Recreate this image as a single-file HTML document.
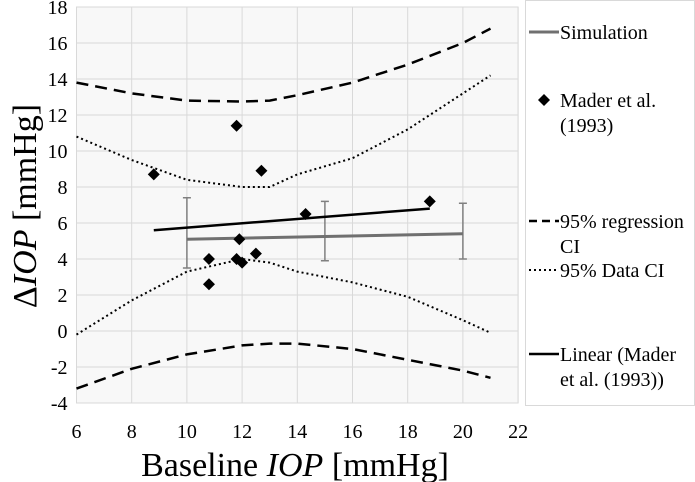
<!DOCTYPE html>
<html><head><meta charset="utf-8"><style>
body{margin:0;background:#fff}
svg{display:block;font-family:"Liberation Serif",serif}
</style></head><body>
<svg id="c" width="695" height="482"></svg>
<script>
const xTicks=[6,8,10,12,14,16,18,20,22];
const yTicks=[-4,-2,0,2,4,6,8,10,12,14,16,18];
const maderX=[8.8,11.8,12.7,14.3,18.8,10.8,10.8,11.8,11.9,12.0,12.5];
const maderY=[8.7,11.4,8.9,6.5,7.2,4.0,2.6,4.0,5.1,3.8,4.3];
const linX=[8.8,18.8];
const linY=[5.6,6.8];
const simX=[10,15,20];
const simY=[5.1,5.25,5.4];
const simLo=[3.5,3.9,4.0];
const simHi=[7.4,7.2,7.1];
const ciX=[6,8,10,12,13,14,16,18,20,21];
const regHi=[13.8,13.2,12.8,12.75,12.8,13.1,13.8,14.8,16,16.8];
const regLo=[-3.2,-2.1,-1.3,-0.8,-0.7,-0.7,-1.0,-1.6,-2.2,-2.6];
const datHi=[10.8,9.5,8.4,8.0,8.0,8.7,9.6,11.2,13.2,14.2];
const datLo=[-0.2,1.7,3.3,4.0,3.8,3.3,2.7,1.9,0.6,-0.1];
const X=v=>76.5+(v-6)*27.6, Y=v=>331+ -v*18;
const s=document.getElementById('c');const NS='http://www.w3.org/2000/svg';
function el(t,a,p){const e=document.createElementNS(NS,t);for(const k in a)e.setAttribute(k,a[k]);(p||s).appendChild(e);return e;}
let r=el('rect',{x:X(6),y:Y(18),width:X(22)-X(6),height:Y(-4)-Y(18),fill:'#f8f8f8',stroke:'#d9d9d9'});


xTicks.forEach(v=>{const l=el('line',{x1:X(v),x2:X(v),y1:Y(18),y2:Y(-4),stroke:'#d9d9d9'});


const t=el('text',{x:X(v),y:Y(-4)+35,'text-anchor':'middle','font-size':20});t.textContent=v;

});
yTicks.forEach(v=>{const l=el('line',{x1:X(6),x2:X(22),y1:Y(v),y2:Y(v),stroke:'#d9d9d9'});


const t=el('text',{x:X(6)-9,y:Y(v)+7,'text-anchor':'end','font-size':20});t.textContent=v;

});
function path(xs,ys,attrs,name){const d=xs.map((x,i)=>(i?'L':'M')+X(x)+','+Y(ys[i])).join('');const p=el('path',Object.assign({d,fill:'none'},attrs));

}
path(ciX,regHi,{stroke:'#000','stroke-width':2.5,'stroke-dasharray':'12,7'},'regression-ci-upper');
path(ciX,regLo,{stroke:'#000','stroke-width':2.5,'stroke-dasharray':'12,7'},'regression-ci-lower');
path(ciX,datHi,{stroke:'#000','stroke-width':2,'stroke-dasharray':'2,3'},'data-ci-upper');
path(ciX,datLo,{stroke:'#000','stroke-width':2,'stroke-dasharray':'2,3'},'data-ci-lower');
simX.forEach((x,i)=>{const e=el('path',{d:`M${X(x)},${Y(simLo[i])}V${Y(simHi[i])}M${X(x)-4},${Y(simLo[i])}h8M${X(x)-4},${Y(simHi[i])}h8`,stroke:'#808080','stroke-width':1.5,fill:'none'});

});
path(simX,simY,{stroke:'#707070','stroke-width':3},'simulation-line');
path(linX,linY,{stroke:'#000','stroke-width':2.5},'linear-fit-line');
maderX.forEach((x,i)=>{const cx=X(x),cy=Y(maderY[i]);const p=el('path',{d:`M${cx},${cy-6}L${cx+6},${cy}L${cx},${cy+6}L${cx-6},${cy}Z`,fill:'#000'});

});
let t=el('text',{x:295,y:476,'text-anchor':'middle','font-size':34});t.innerHTML='Baseline <tspan font-style="italic">IOP</tspan> [mmHg]';


t=el('text',{x:0,y:0,'text-anchor':'middle','font-size':34,transform:'translate(36,206) rotate(-90)'});t.innerHTML='Δ<tspan font-style="italic">IOP</tspan> [mmHg]';


const lg=el('g',{});


el('rect',{x:525.5,y:0.5,width:169,height:405,fill:'#fff',stroke:'#d9d9d9'},lg);
function ltxt(lines,y){lines.forEach((s2,i)=>{const e=el('text',{x:560,y:y+i*25,'font-size':20},lg);e.textContent=s2;

});}
el('line',{x1:529,x2:559,y1:32,y2:32,stroke:'#707070','stroke-width':3},lg);ltxt(['Simulation'],39);
el('path',{d:'M544,94L550,100L544,106L538,100Z'},lg);ltxt(['Mader et al.','(1993)'],107);
el('line',{x1:529,x2:559,y1:221,y2:221,stroke:'#000','stroke-width':2.5,'stroke-dasharray':'8,5'},lg);ltxt(['95% regression','CI'],228);
el('line',{x1:529,x2:559,y1:270,y2:270,stroke:'#000','stroke-width':2,'stroke-dasharray':'2,3'},lg);ltxt(['95% Data CI'],277);
el('line',{x1:529,x2:559,y1:354,y2:354,stroke:'#000','stroke-width':2.5},lg);ltxt(['Linear (Mader','et al. (1993))'],361);
</script>
</body></html>
